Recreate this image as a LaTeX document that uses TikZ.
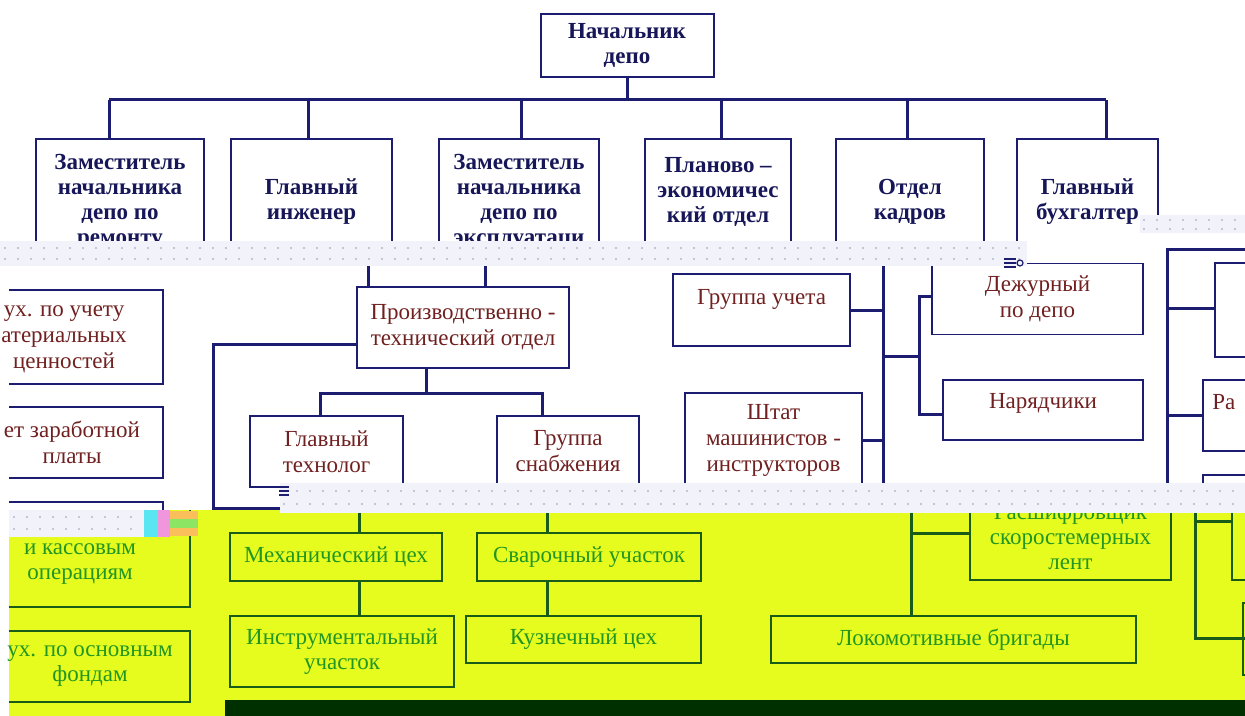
\documentclass[tikz,border=0pt]{standalone}
\usepackage{fontspec}
\setmainfont{Liberation Serif}
\usetikzlibrary{calc}

\definecolor{navyline}{RGB}{28,28,112}
\definecolor{navytext}{RGB}{22,22,88}
\definecolor{maroontext}{RGB}{112,32,32}
\definecolor{limebg}{RGB}{230,252,30}
\definecolor{greenline}{RGB}{24,92,24}
\definecolor{greentext}{RGB}{34,150,34}
\definecolor{darkbar}{RGB}{0,48,0}
\definecolor{stripbg}{RGB}{241,242,250}
\definecolor{stripdot}{RGB}{182,184,204}
\definecolor{glitchcyan}{RGB}{90,230,240}
\definecolor{glitchpink}{RGB}{240,150,220}
\definecolor{glitchorange}{RGB}{250,190,90}
\definecolor{glitchgreen}{RGB}{140,230,100}

\begin{document}
\begin{tikzpicture}[x=0.5pt,y=-0.5pt,
	topbox/.style={draw=navyline,line width=1pt,align=center,text=navytext,font=\fontsize{11.5}{12.5}\selectfont\bfseries,inner sep=0pt},
	midbox/.style={draw=navyline,line width=0.8pt,align=center,text=maroontext,font=\fontsize{11.5}{13}\selectfont,inner sep=0pt},
	lowbox/.style={draw=greenline,line width=0.8pt,align=center,text=greentext,font=\fontsize{11.5}{12.5}\selectfont,inner sep=0pt},
	midlabel/.style={align=center,text=maroontext,font=\fontsize{11.5}{13}\selectfont,inner sep=0pt},
	lowlabel/.style={align=center,text=greentext,font=\fontsize{11.5}{12.5}\selectfont,inner sep=0pt},
	navyrule/.style={navyline,line width=1.5pt},
	greenrule/.style={greenline,line width=1.5pt},
	navyframe/.style={navyline,line width=0.8pt},
	greenframe/.style={greenline,line width=0.8pt}]
	%%%%% START %%%%%
	\useasboundingbox (0,0) rectangle (1245,716);

	%%% lower band (yellow)
	\fill[limebg] (9,510) rectangle (1245,716);

	\node[lowbox,minimum width=106pt,minimum height=24pt] (mech) at (336,557) {Механический цех};
	\node[lowbox,minimum width=112pt,minimum height=35.5pt] (instr) at (342,651.5) {Инструментальный\\участок};
	\node[lowbox,minimum width=112pt,minimum height=24pt] (svar) at (589,557) {Сварочный участок};
	\node[lowbox,minimum width=117.5pt,minimum height=23.5pt] (kuzn) at (583.5,639.5) {Кузнечный цех};
	\node[lowbox,minimum width=182.5pt,minimum height=23.5pt] (lokbr) at (953.5,639.5) {Локомотивные бригады};
	\node[lowbox,minimum width=100.5pt,minimum height=43pt] (rassh) at (1070.5,537) {Расшифровщик\\скоростемерных\\лент};

	\coordinate (c1) at (359,510);
	\coordinate (c2) at (547,510);
	\coordinate (c3) at (911,510);
	\coordinate (c3r) at (911,533);
	\coordinate (c4) at (1195,510);
	\coordinate (c4b) at (1195,638);
	\draw[greenrule] (c1) -- (c1 |- mech.north);
	\draw[greenrule] (c1 |- mech.south) -- (c1 |- instr.north);
	\draw[greenrule] (c2) -- (c2 |- svar.north);
	\draw[greenrule] (c2 |- svar.south) -- (c2 |- kuzn.north);
	\draw[greenrule] (c3) -- (c3 |- lokbr.north);
	\draw[greenrule] (c3r) -- (c3r -| rassh.west);
	\draw[greenrule] (c4) -- (c4b) -- (1245,638);
	\draw[greenrule] (1195,521) -- (1232,521);

	% cut boxes at the edges
	\draw[greenframe] (1232,510) -- (1232,580) -- (1245,580);
	\draw[greenframe] (1245,603) -- (1243,603) -- (1243,675) -- (1245,675);
	\draw[greenframe] (9,607) -- (190,607) -- (190,510);
	\draw[greenframe] (9,631) -- (190,631) -- (190,702) -- (9,702);
	\node[lowlabel] (kass) at (80,564) {и кассовым\\операциям};
	\node[lowlabel] (osnf) at (90,666.5) {ух. по основным\\фондам};

	\fill[darkbar] (225,700) rectangle (1245,716);

	%%% middle band (white)
	\node[midbox,minimum width=106pt,minimum height=40.5pt] (ptd) at (463,327.5) {Производственно -\\технический отдел};
	\node[midbox,minimum width=76.5pt,minimum height=35.5pt] (tehn) at (326.5,451.5) {Главный\\технолог};
	\node[midbox,minimum width=71pt,minimum height=35.5pt] (snab) at (568,451.5) {Группа\\снабжения};
	\node[midbox,minimum width=88.5pt,minimum height=36pt] (uchet) at (761.5,310) {Группа учета\\~};
	\node[midbox,minimum width=88.5pt,minimum height=47pt] (instrukt) at (773.5,440) {Штат\\машинистов -\\инструкторов};
	\node[midbox,minimum width=105.5pt,minimum height=35.5pt] (dezh) at (1037.5,299) {Дежурный\\по депо};
	\node[midbox,minimum width=100pt,minimum height=30pt] (naryad) at (1043,410) {Нарядчики\\[-4pt]~};

	\coordinate (u1) at (368,262);
	\coordinate (u2) at (485,262);
	\draw[navyrule] (u1) -- (u1 |- ptd.north);
	\draw[navyrule] (u2) -- (u2 |- ptd.north);
	\coordinate (pj) at (426,393);
	\coordinate (pj1) at (320,393);
	\coordinate (pj2) at (542,393);
	\draw[navyrule] (pj |- ptd.south) -- (pj);
	\draw[navyrule] (pj1 |- tehn.north) -- (pj1) -- (pj2) -- (pj2 |- snab.north);
	\coordinate (lk) at (213,508);
	\coordinate (lke) at (280,508);
	\draw[navyrule] ([yshift=-8.25pt]ptd.west) -| (lk) -- (lke);

	\coordinate (v1t) at (883,262);
	\coordinate (v1b) at (883,490);
	\coordinate (hj) at (919,356);
	\coordinate (v2t) at (919,297);
	\coordinate (v2b) at (919,414);
	\draw[navyrule] (v1t) -- (v1b);
	\draw[navyrule] (uchet.east) -- (uchet.east -| v1t);
	\draw[navyrule] (instrukt.east) -- (instrukt.east -| v1t);
	\draw[navyrule] (hj -| v1t) -- (hj);
	\draw[navyrule] (v2t -| dezh.west) -- (v2t) -- (v2b) -- (v2b -| naryad.west);

	% right column, cut by the edge
	\coordinate (rt) at (1167,250);
	\coordinate (rb) at (1167,490);
	\coordinate (r1w) at (1215,308);
	\coordinate (r2w) at (1203,415);
	\draw[navyrule] (rb) -- (rt) -- (1245,250);
	\draw[navyrule] (r1w -| rt) -- (r1w);
	\draw[navyrule] (r2w -| rt) -- (r2w);
	\draw[navyframe] (1245,263) -- (1215,263) -- (1215,357) -- (1245,357);
	\draw[navyframe] (1245,380) -- (1203,380) -- (1203,451) -- (1245,451);
	\draw[navyframe] (1245,475) -- (1203,475) -- (1203,490);
	\node[midlabel,anchor=west] (razd) at (1212,402) {Ра};

	% left column, cut by the edge
	\draw[navyframe] (9,290) -- (163,290) -- (163,384) -- (9,384);
	\draw[navyframe] (9,407) -- (163,407) -- (163,478) -- (9,478);
	\draw[navyframe] (9,502) -- (163,502) -- (163,510);
	\node[midlabel] (mater) at (64,339) {ух. по учету\\атериальных\\ценностей};
	\node[midlabel] (zarpl) at (72,442.5) {ет заработной\\платы};

	%%% upper band (white)
	\begin{scope}
		\clip (0,0) -- (1245,0) -- (1245,215) -- (1140,215) -- (1140,241) -- (0,241) -- cycle;
		\node[topbox,minimum width=86.5pt,minimum height=31.5pt] (head) at (627,45.5) {Начальник\\депо};
		\node[topbox,minimum width=84pt,minimum height=63pt] (zamrem) at (120,202) {Заместитель\\начальника\\депо по\\ремонту};
		\node[topbox,minimum width=80.5pt,minimum height=63pt] (glinzh) at (311.5,202) {Главный\\инженер};
		\node[topbox,minimum width=80pt,minimum height=63pt] (zamexp) at (519,202) {Заместитель\\начальника\\депо по\\эксплуатаци};
		\node[topbox,minimum width=73pt,minimum height=63pt] (plan) at (718,202) {Планово –\\экономичес\\кий отдел\\~};
		\node[topbox,minimum width=74pt,minimum height=63pt] (kadry) at (910,202) {Отдел\\кадров};
		\node[topbox,minimum width=70.5pt,minimum height=63pt] (buh) at (1087.5,202) {Главный\\бухгалтер};

		\coordinate (j1) at (109,100);
		\coordinate (j2) at (308,100);
		\coordinate (j3) at (521,100);
		\coordinate (j4) at (721,100);
		\coordinate (j5) at (907,100);
		\coordinate (j6) at (1106,100);
		\draw[navyrule] (j1) -- (j6);
		\draw[navyrule] (head.south) -- (head.south |- j1);
		\foreach \j/\d in {j1/zamrem,j2/glinzh,j3/zamexp,j4/plan,j5/kadry,j6/buh}
			\draw[navyrule] (\j) -- (\j |- \d.north);
	\end{scope}

	%%% dotted strips between the bands
	\fill[stripbg] (0,241) rectangle (1027,266);
	\fill[stripbg] (1140,215) rectangle (1245,233);
	\fill[stripbg] (280,483) rectangle (1245,513);
	\fill[stripbg] (9,510) rectangle (144,537);
	\foreach \x in {5,18,...,1022} {
		\fill[stripdot] (\x,248) circle (1.2);
		\fill[stripdot] (\x,259) circle (1.2);
	}
	\foreach \x in {1144,1157,...,1244} {
		\fill[stripdot] (\x,220) circle (1.2);
		\fill[stripdot] (\x,229) circle (1.2);
	}
	\foreach \x in {284,297,...,1244} {
		\fill[stripdot] (\x,491) circle (1.2);
		\fill[stripdot] (\x,504) circle (1.2);
	}
	\foreach \x in {14,27,...,140} {
		\fill[stripdot] (\x,517) circle (1.2);
		\fill[stripdot] (\x,529) circle (1.2);
	}

	% small glitches
	\fill[glitchcyan] (144,510) rectangle (158,537);
	\fill[glitchpink] (158,510) rectangle (170,537);
	\fill[glitchorange] (170,511) rectangle (198,519);
	\fill[glitchgreen] (170,519) rectangle (198,528);
	\fill[glitchorange] (170,528) rectangle (198,536);
	\foreach \y in {487,491,495}
		\draw[navyline,line width=0.6pt] (279,\y) -- (289,\y);
	\foreach \y in {259,263,267}
		\draw[navyline,line width=0.6pt] (1004,\y) -- (1016,\y);
	\draw[navyline,line width=0.6pt] (1020,263) circle (3);
	%%%%% END %%%%%
\end{tikzpicture}
\end{document}
